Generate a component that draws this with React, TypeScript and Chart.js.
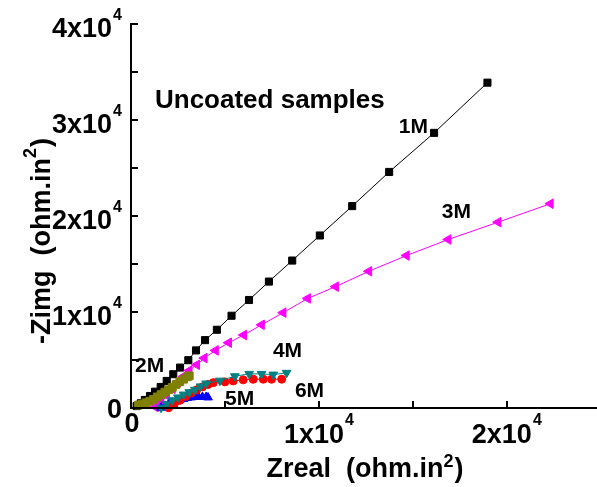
import React, { useEffect, useRef } from 'react';
import { Chart, registerables } from 'chart.js';

Chart.register(...registerables);

// ---- data (ohm.in^2) ----
const x1M = [300, 520, 740, 1010, 1280, 1580, 1900, 2250, 2610, 3050, 3460, 3940, 4570, 5350, 6280, 7340, 8580, 10050, 11770, 13740, 16130, 18970];
const y1M = [200, 490, 840, 1250, 1700, 2190, 2820, 3520, 4210, 4980, 6000, 7070, 8150, 9610, 11250, 13170, 15360, 17970, 21030, 24590, 28660, 33890];

const x3M = [1300, 1600, 1900, 2200, 2500, 2800, 3100, 3500, 3900, 4500, 5200, 6000, 6950, 8100, 9400, 10890, 12660, 14660, 16880, 19540, 22320];
const y3M = [100, 600, 1300, 2000, 2700, 3300, 3900, 4500, 5200, 6000, 6800, 7600, 8670, 9930, 11410, 12640, 14240, 15880, 17550, 19360, 21280];

const x2M = [400, 600, 800, 1000, 1200, 1400, 1600, 1800, 2000, 2200, 2400, 2600, 2800, 3000, 3100];
const y2M = [300, 400, 550, 700, 900, 1150, 1400, 1650, 1900, 2150, 2450, 2750, 3000, 3250, 3350];

const x5M = [1600, 1800, 2000, 2200, 2400, 2600, 2800, 3000, 3200, 3400, 3600, 3800, 4000, 4100];
const y5M = [30, 200, 400, 550, 700, 850, 950, 1050, 1100, 1150, 1150, 1150, 1150, 1100];

const x4M = [1600, 1900, 2200, 2500, 2800, 3100, 3400, 3700, 4000, 4730, 5530, 6290, 6950, 7570, 8280];
const y4M = [30, 400, 800, 1100, 1400, 1650, 1900, 2250, 2550, 2850, 3310, 3550, 3550, 3480, 3660];

const x6M = [2000, 2300, 2600, 2900, 3200, 3500, 3800, 4100, 4380, 5000, 5440, 5970, 6510, 7040, 7480, 8020];
const y6M = [30, 400, 800, 1200, 1550, 1900, 2200, 2450, 2640, 2720, 2820, 2930, 3000, 3000, 3000, 3000];

// ---- axes ----
const xMin = 0;
const xMax = 24800;
const yMin = 0;
const yMax = 40000;
const minorStep = 5000;
const xTickValues = [0, 10000, 20000];
const xTickMain = ['0', '1x10', '2x10'];
const xTickSup = ['', '4', '4'];
const yTickValues = [0, 10000, 20000, 30000, 40000];
const yTickMain = ['0', '1x10', '2x10', '3x10', '4x10'];
const yTickSup = ['', '4', '4', '4', '4'];

const xTitleMain = 'Zreal';
const yTitleMain = '-Zimg';
const titleUnit = '(ohm.in';
const titleUnitSup = '2';
const titleClose = ')';

// ---- annotations (data coordinates) ----
const noteTexts = ['Uncoated samples', '1M', '3M', '2M', '4M', '5M', '6M'];
const noteX = [1277, 14255, 16540, 213, 7553, 5000, 8723];
const noteY = [31200, 28600, 19750, 3700, 5300, 270, 1150];

const FONT = '"Liberation Sans", Arial, Helvetica, sans-serif';
const TICK_PX = 7;

const toPts = (xs: number[], ys: number[]) => xs.map((x, i) => ({ x, y: ys[i] }));

// axis frame (left + bottom) as a polyline in data units
const axisFrame = [
  { x: xMin, y: yMax },
  { x: xMin, y: yMin },
  { x: xMax, y: yMin },
];

const drawAxesAndTicks = (chart: any) => {
  const ctx = chart.ctx as CanvasRenderingContext2D;
  const sx = chart.scales.x;
  const sy = chart.scales.y;
  const x0 = Math.round(sx.getPixelForValue(xMin));
  const y0 = Math.round(sy.getPixelForValue(yMin));
  const yTop = Math.round(sy.getPixelForValue(yMax));
  const xRight = Math.round(sx.getPixelForValue(xMax));
  ctx.save();
  ctx.globalAlpha = 1;
  ctx.globalCompositeOperation = 'source-over';
  ctx.fillStyle = '#000000';
  ctx.fillRect(x0 - 1, yTop - 1, 2, y0 - yTop + 2);
  ctx.fillRect(x0 - 1, y0 - 1, xRight - x0 + 1, 2);
  for (let v = yMin; v <= yMax; v += minorStep) {
    const py = Math.round(sy.getPixelForValue(v));
    ctx.fillRect(x0, py - 1, TICK_PX, 2);
  }
  for (let v = xMin; v <= xMax; v += minorStep) {
    const px = Math.round(sx.getPixelForValue(v));
    ctx.fillRect(px - 1, y0 - TICK_PX, 2, TICK_PX);
  }
  ctx.restore();
};

const ticksPlugin = {
  id: 'inwardTicks',
  beforeDatasetsDraw(chart: any) {
    drawAxesAndTicks(chart);
  },
  afterDraw(chart: any) {
    drawAxesAndTicks(chart);
  },
};

const labelsPlugin = {
  id: 'textLabels',
  afterDraw(chart: any) {
    const ctx = chart.ctx as CanvasRenderingContext2D;
    const sx = chart.scales.x;
    const sy = chart.scales.y;
    const ca = chart.chartArea;
    const x0 = sx.getPixelForValue(xMin);
    const y0 = sy.getPixelForValue(yMin);
    ctx.save();
    ctx.fillStyle = '#000000';
    ctx.textBaseline = 'alphabetic';
    ctx.textAlign = 'left';

    const mainFont = `bold 27px ${FONT}`;
    const supFont = `bold 16px ${FONT}`;
    yTickValues.forEach((v, i) => {
      const py = sy.getPixelForValue(v);
      ctx.font = supFont;
      const sw = yTickSup[i] ? ctx.measureText(yTickSup[i]).width + 1 : 0;
      ctx.font = mainFont;
      const mw = ctx.measureText(yTickMain[i]).width;
      const right = x0 - 9;
      const base = yTickSup[i] ? py + 12.5 : py + 10;
      ctx.fillText(yTickMain[i], right - sw - mw, base);
      if (yTickSup[i]) {
        ctx.font = supFont;
        ctx.fillText(yTickSup[i], right - sw + 1, base - 17);
      }
    });
    xTickValues.forEach((v, i) => {
      const px = sx.getPixelForValue(v);
      ctx.font = supFont;
      const sw = xTickSup[i] ? ctx.measureText(xTickSup[i]).width + 1 : 0;
      ctx.font = mainFont;
      const mw = ctx.measureText(xTickMain[i]).width;
      const start = px - (mw + sw) / 2 + (xTickSup[i] ? 0 : 1);
      const base = xTickSup[i] ? y0 + 35 : y0 + 24;
      ctx.fillText(xTickMain[i], start, base);
      if (xTickSup[i]) {
        ctx.font = supFont;
        ctx.fillText(xTickSup[i], start + mw + 1, base - 18);
      }
    });

    const titleFont = `bold 27px ${FONT}`;
    const titleSupFont = `bold 18px ${FONT}`;
    const gap = 15;
    const drawTitle = (mainTxt: string, ox: number, oy: number, vertical: boolean, supRaise: number) => {
      ctx.font = titleFont;
      const w1 = ctx.measureText(mainTxt).width;
      const w2 = ctx.measureText(titleUnit).width;
      const w4 = ctx.measureText(titleClose).width;
      ctx.font = titleSupFont;
      const w3 = ctx.measureText(titleUnitSup).width;
      const total = w1 + gap + w2 + w3 + 1 + w4;
      ctx.save();
      ctx.translate(ox, oy);
      if (vertical) ctx.rotate(-Math.PI / 2);
      let cx = -total / 2;
      ctx.font = titleFont;
      ctx.fillText(mainTxt, cx, 0);
      cx += w1 + gap;
      ctx.fillText(titleUnit, cx, 0);
      cx += w2;
      ctx.font = titleSupFont;
      ctx.fillText(titleUnitSup, cx, -supRaise);
      cx += w3 + 1;
      ctx.font = titleFont;
      ctx.fillText(titleClose, cx, 0);
      ctx.restore();
    };
    drawTitle(xTitleMain, (ca.left + ca.right) / 2 + 1, y0 + 69, false, 10);
    drawTitle(yTitleMain, x0 - 81, (ca.top + ca.bottom) / 2 + 25, true, 14);

    noteTexts.forEach((t, i) => {
      ctx.font = i === 0 ? `bold 26px ${FONT}` : `bold 21px ${FONT}`;
      ctx.fillText(t, sx.getPixelForValue(noteX[i]), sy.getPixelForValue(noteY[i]));
    });
    ctx.restore();
    drawAxesAndTicks(chart);
  },
};

export default function App() {
  const canvasRef = useRef<HTMLCanvasElement | null>(null);
  useEffect(() => {
    document.body.style.margin = '0';
    const canvas = canvasRef.current;
    if (!canvas) return;
    const mk = (label: string, xv: number[], yv: number[], color: string, style: string, radius: number, rotation: number, order: number) => ({
      label,
      data: toPts(xv, yv),
      order,
      showLine: true,
      clip: 12,
      borderColor: color,
      borderWidth: 1,
      backgroundColor: color,
      pointBackgroundColor: color,
      pointBorderColor: color,
      pointBorderWidth: 1,
      pointStyle: style,
      pointRotation: rotation,
      pointRadius: radius,
    });
    const chart = new Chart(canvas, {
      type: 'scatter',
      data: {
        datasets: [
          mk('2M', x2M, y2M, '#808000', 'rect', 5.5, 0, 0),
          mk('4M', x4M, y4M, '#008080', 'triangle', 5, 180, 1),
          mk('6M', x6M, y6M, '#FF0000', 'circle', 4, 0, 2),
          mk('5M', x5M, y5M, '#0000FF', 'triangle', 5, 0, 3),
          mk('3M', x3M, y3M, '#FF00FF', 'triangle', 5.5, -90, 4),
          mk('1M', x1M, y1M, '#000000', 'rect', 5, 0, 5),
          {
            label: 'axes',
            data: axisFrame,
            order: 10,
            showLine: true,
            clip: false,
            borderColor: '#000000',
            borderWidth: 2,
            pointRadius: 0,
            borderCapStyle: 'square',
          },
        ] as any,
      },
      options: {
        responsive: false,
        animation: false,
        layout: { autoPadding: false, padding: { left: 131, top: 24, right: 0, bottom: 79 } },
        plugins: { legend: { display: false }, tooltip: { enabled: false } },
        scales: {
          x: { type: 'linear', min: xMin, max: xMax, display: false },
          y: { type: 'linear', min: yMin, max: yMax, display: false },
        },
      },
      plugins: [ticksPlugin, labelsPlugin],
    });
    return () => chart.destroy();
  }, []);
  return (
    <div style={{ position: 'absolute', left: 0, top: 0, width: 597, height: 487, background: '#fff' }}>
      <canvas ref={canvasRef} width={597} height={487} style={{ display: 'block', width: 597, height: 487 }} />
    </div>
  );
}
